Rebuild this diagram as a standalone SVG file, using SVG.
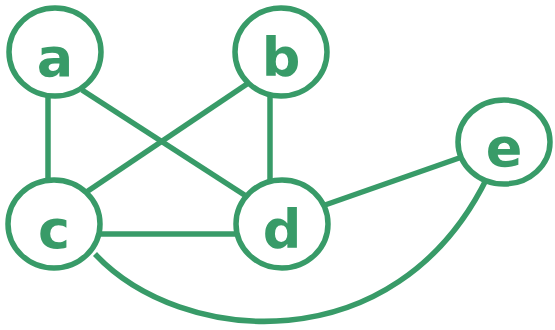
<svg xmlns="http://www.w3.org/2000/svg" width="555" height="330" viewBox="0 0 555 330">
<style>
.n{fill:#fff;stroke:#389b68;stroke-width:5.5}
.e{fill:none;stroke:#389b68;stroke-width:5.5}
.t{font-family:"DejaVu Sans",sans-serif;font-weight:bold;font-size:54px;fill:#389b68;text-anchor:middle}
</style>
<rect width="555" height="330" fill="#fff"/>
<g id="edges">
<line class="e" x1="48" y1="96" x2="48" y2="181"/>
<line class="e" x1="270" y1="96" x2="270" y2="180"/>
<line class="e" x1="82" y1="90" x2="246" y2="196"/>
<line class="e" x1="247" y1="84" x2="82" y2="195"/>
<line class="e" x1="101" y1="234" x2="236" y2="234"/>
<line class="e" x1="325" y1="205" x2="462" y2="157"/>
<path class="e" d="M95 254 C180 345 395 365 487 178"/>
</g>
<g id="a"><ellipse class="n" cx="55" cy="52" rx="46" ry="44"/><text class="t" x="55" y="76">a</text></g>
<g id="b"><ellipse class="n" cx="281" cy="52" rx="46" ry="44"/><text class="t" x="281" y="76">b</text></g>
<g id="c"><ellipse class="n" cx="54" cy="224" rx="46" ry="44"/><text class="t" x="54" y="248">c</text></g>
<g id="d"><ellipse class="n" cx="282" cy="224" rx="46" ry="44"/><text class="t" x="282" y="248">d</text></g>
<g id="e"><ellipse class="n" cx="504" cy="142" rx="46" ry="42"/><text class="t" x="504" y="166">e</text></g>
</svg>
